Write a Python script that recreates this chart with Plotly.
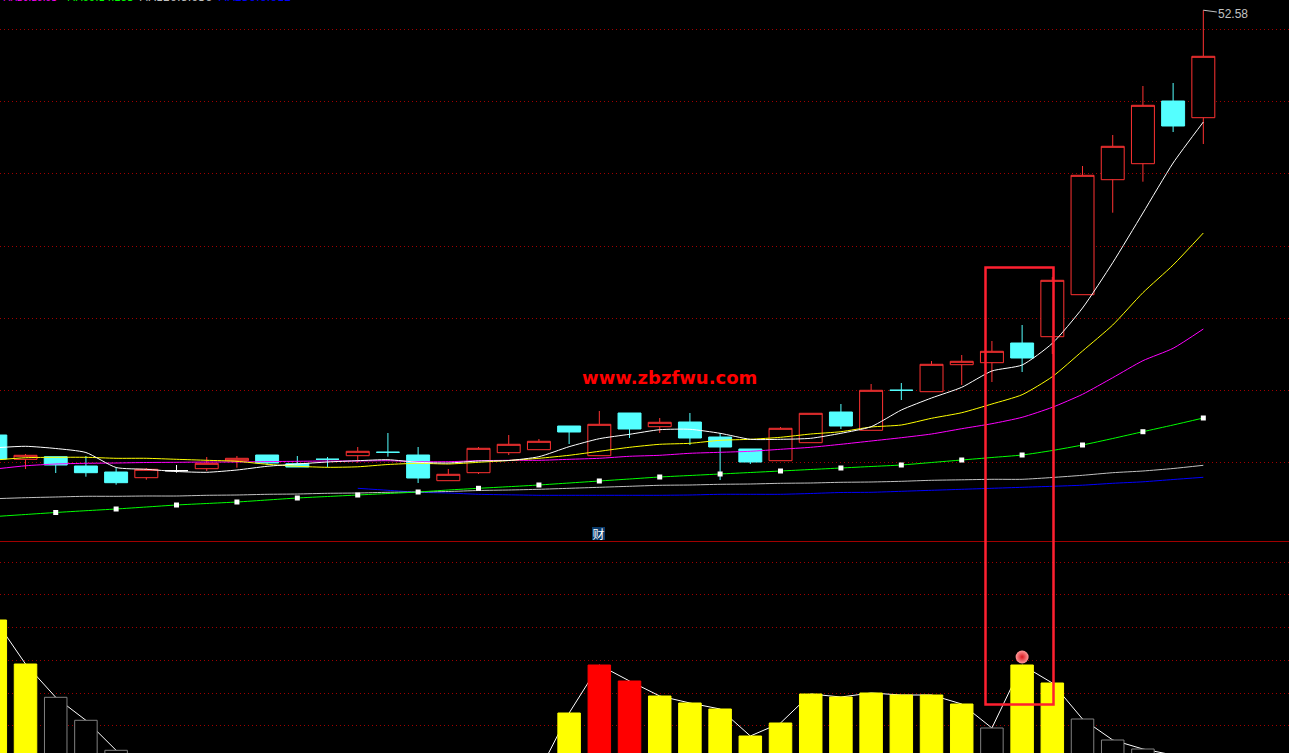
import plotly.graph_objects as go

# Daily candles; one session per slot, oldest first
opens = [10.1, 7.67, 7.93, 7.0, 6.4, 5.83, 6.53, 6.73, 7.53, 8.1, 7.23, 7.68, 8.03, 8.38, 8.1, 5.53, 6.33, 8.33, 8.63, 11.0,
         8.03, 12.3, 10.93, 11.4, 9.9, 8.7, 7.53, 9.33, 12.4, 10.57, 14.58, 14.43, 17.13, 17.33, 19.3, 19.93, 24.13, 35.63, 37.23, 43.5, 41.83]
highs = [10.1, 8.2, 7.93, 8.0, 6.83, 6.8, 7.1, 7.9, 8.0, 8.1, 8.0, 7.9, 8.9, 10.3, 8.9, 6.7, 8.9, 10.1, 9.7, 11.0,
         12.5, 12.3, 11.8, 12.3, 10.3, 8.7, 10.9, 12.27, 13.2, 15.2, 15.3, 17.5, 18.1, 19.5, 21.1, 25.9, 37.0, 40.1, 45.0, 45.3, 52.58]
lows = [7.7, 6.7, 6.3, 5.93, 5.13, 5.63, 6.33, 6.5, 6.83, 7.1, 6.9, 6.87, 7.33, 7.93, 5.3, 5.53, 6.2, 8.1, 8.63, 9.2,
        8.03, 9.8, 10.3, 9.1, 5.6, 7.2, 7.53, 9.33, 10.7, 10.57, 13.6, 14.43, 15.1, 15.4, 16.4, 18.2, 24.13, 32.33, 35.43, 40.4, 39.2]
closes = [7.7, 8.07, 7.1, 6.33, 5.33, 6.67, 6.53, 7.27, 7.77, 7.3, 6.9, 7.67, 8.47, 8.37, 5.8, 6.17, 8.77, 9.17, 9.47, 10.4,
          11.17, 10.7, 11.37, 9.8, 8.9, 7.4, 10.77, 12.27, 11.0, 14.57, 14.57, 17.17, 17.47, 18.47, 17.8, 25.57, 36.07, 38.97, 43.07, 41.0, 47.97]
flat_day = 6

ma5 = [8.82, 8.97, 8.75, 8.35, 6.85, 6.67, 6.45, 6.37, 6.6, 6.97, 7.2, 7.4, 7.53, 7.63, 7.37, 7.3, 7.5, 7.55, 7.93, 8.93,
       9.73, 10.17, 10.63, 10.67, 10.27, 9.67, 9.67, 9.77, 10.27, 10.93, 12.6, 13.8, 14.87, 16.5, 17.1, 19.27, 22.8, 27.33, 32.3, 37.3, 41.4]
ma10 = [7.6, 7.83, 7.87, 7.87, 7.77, 7.77, 7.67, 7.57, 7.47, 7.17, 6.97, 6.87, 6.92, 7.15, 7.27, 7.2, 7.37, 7.55, 7.77, 8.07,
        8.47, 8.87, 9.17, 9.27, 9.57, 9.67, 9.87, 10.2, 10.43, 10.9, 11.1, 11.77, 12.33, 13.2, 14.13, 15.93, 18.5, 21.1, 24.33, 27.1, 30.3]
ma20 = [6.7, 7.02, 7.2, 7.27, 7.3, 7.35, 7.37, 7.4, 7.4, 7.44, 7.47, 7.5, 7.5, 7.53, 7.43, 7.43, 7.53, 7.57, 7.57, 7.67,
        7.77, 7.97, 8.07, 8.27, 8.37, 8.47, 8.67, 8.87, 9.17, 9.5, 9.83, 10.2, 10.73, 11.23, 11.87, 12.87, 14.17, 15.83, 17.53, 18.77, 20.7]
ma60 = [1.95, 2.15, 2.35, 2.53, 2.7, 2.9, 3.1, 3.25, 3.4, 3.6, 3.8, 3.95, 4.1, 4.25, 4.4, 4.6, 4.77, 4.93, 5.1, 5.3,
        5.5, 5.7, 5.9, 6.05, 6.2, 6.35, 6.5, 6.65, 6.8, 6.95, 7.1, 7.35, 7.6, 7.85, 8.1, 8.55, 9.1, 9.75, 10.43, 11.1, 11.8]
ma120 = [3.73, 3.83, 3.9, 3.97, 3.97, 4.0, 4.0, 4.07, 4.1, 4.17, 4.2, 4.27, 4.3, 4.37, 4.4, 4.45, 4.55, 4.6, 4.67, 4.77,
         4.87, 4.97, 5.07, 5.1, 5.17, 5.2, 5.27, 5.3, 5.37, 5.4, 5.47, 5.57, 5.62, 5.67, 5.67, 5.85, 6.07, 6.33, 6.5, 6.75, 7.07]
ma250 = [None, None, None, None, None, None, None, None, None, None, None, None, 4.77, 4.57, 4.37, 4.3, 4.17, 4.12, 4.07, 4.07,
         4.07, 4.07, 4.07, 4.1, 4.17, 4.17, 4.17, 4.25, 4.35, 4.37, 4.47, 4.57, 4.67, 4.77, 4.87, 4.97, 5.08, 5.27, 5.42, 5.65, 5.87]

volume = [183, 139, 105.7, 82.7, 52.7, 33, None, None, None, None, None, None, None, None, None, None, None, None, 31, 90,
          138, 122, 107, 100, 94, 67, 80, 109, 106, 110, 108, 108, 99, 75, 138, 120, 84, 63, 54, 48, None]
volume_kind = list("yyggg" + "x" * 13 + "xy" + "rr" + "y" * 11 + "gyyggggx")

price_grid = [7.35, 14.55, 21.75, 28.95, 36.25, 43.45, 50.65]
volume_grid = [77.5, 109.5, 142.5, 175.5, 208.5, 240.5]
legend_texts = ["MA20:29.95", "MA60:14.283", "MA120:8.036", "MA250:6.012"]
legend_sizes = [9, 10, 11, 11]

RED = "#ff3232"
CYAN = "#54ffff"
GRID = "#a00000"
days = list(range(len(closes)))

fig = go.Figure()

o = [None if i == flat_day else v for i, v in enumerate(opens)]
h = [None if i == flat_day else v for i, v in enumerate(highs)]
l = [None if i == flat_day else v for i, v in enumerate(lows)]
c = [None if i == flat_day else v for i, v in enumerate(closes)]
fig.add_trace(go.Candlestick(
    x=days, open=o, high=h, low=l, close=c, whiskerwidth=0,
    increasing=dict(line=dict(color=RED, width=1), fillcolor="#000000"),
    decreasing=dict(line=dict(color=CYAN, width=1), fillcolor=CYAN),
    hoverinfo="skip", showlegend=False, xaxis="x", yaxis="y"))
fig.add_trace(go.Candlestick(
    x=[days[flat_day]], open=[opens[flat_day]], high=[highs[flat_day]], low=[lows[flat_day]], close=[closes[flat_day]],
    whiskerwidth=0,
    increasing=dict(line=dict(color="#ffffff", width=1), fillcolor="#000000"),
    decreasing=dict(line=dict(color="#ffffff", width=1), fillcolor="#ffffff"),
    hoverinfo="skip", showlegend=False, xaxis="x", yaxis="y"))

for values, color in [(ma250, "#0000ff"), (ma120, "#c0c0c0"), (ma60, "#00ff00"), (ma20, "#ff00ff"), (ma10, "#ffff00"), (ma5, "#ffffff")]:
    fig.add_trace(go.Scatter(x=days, y=values, mode="lines", line=dict(color=color, width=1, shape="spline", smoothing=0.6),
                             hoverinfo="skip", showlegend=False, xaxis="x", yaxis="y"))

fig.add_trace(go.Scatter(x=days[2::2], y=ma60[2::2], mode="markers",
                         marker=dict(symbol="square", size=5, color="#ffffff"),
                         hoverinfo="skip", showlegend=False, xaxis="x", yaxis="y"))

# volume line sits below the bars, so it lives on the lower of two overlaid axes
fig.add_trace(go.Scatter(x=days, y=volume, mode="lines", line=dict(color="#ffffff", width=1),
                         hoverinfo="skip", showlegend=False, xaxis="x", yaxis="y2"))
fill = {"y": "#ffff00", "r": "#ff0000", "g": "#000000", "x": "#000000"}
edge = {"y": "#ffff00", "r": "#ff0000", "g": "#808080", "x": "#000000"}
fig.add_trace(go.Bar(x=days, y=volume, width=0.745,
                     marker=dict(color=[fill[k] for k in volume_kind],
                                 line=dict(color=[edge[k] for k in volume_kind], width=1)),
                     hoverinfo="skip", showlegend=False, xaxis="x", yaxis="y3"))
fig.add_trace(go.Scatter(x=[days[34]], y=[146], mode="markers",
                         marker=dict(size=13, color="#ff9a9a", gradient=dict(type="radial", color="#d81820")),
                         hoverinfo="skip", showlegend=False, xaxis="x", yaxis="y3"))

fig.add_annotation(x=days[40], y=highs[40], xref="x", yref="y", text="52.58", showarrow=True,
                   ax=30, ay=4, arrowcolor="#c0c0c0", arrowwidth=1, arrowhead=0, standoff=0,
                   font=dict(family="Liberation Sans", size=12, color="#c0c0c0"))
fig.add_annotation(x=669 / 1289, y=1 - 377 / 753, xref="paper", yref="paper", text="<b>www.zbzfwu.com</b>", showarrow=False,
                   xanchor="center", yanchor="middle",
                   font=dict(family="DejaVu Sans", size=18, color="#ff0000"))
fig.add_annotation(x=598.5 / 1289, y=1 - 533.5 / 753, xref="paper", yref="paper", text="财", showarrow=False,
                   xanchor="center", yanchor="middle", width=13, height=13,
                   bgcolor="#0a3a6a", borderpad=0, borderwidth=0,
                   font=dict(family="Noto Sans CJK SC", size=12, color="#ffffff"))
for text, left, color, size in zip(legend_texts, [1, 65, 137, 216], ["#ff00ff", "#00ff00", "#c0c0c0", "#0000ff"], legend_sizes):
    fig.add_annotation(x=left / 1289, y=1, xref="paper", yref="paper", xanchor="left", yanchor="bottom",
                       yshift=-(size * 0.3 + 2.3),
                       text=text, showarrow=False, font=dict(family="DejaVu Sans", size=size, color=color))

fig.add_shape(type="rect", xref="paper", yref="paper", x0=985.5 / 1289, x1=1053.5 / 1289,
              y0=1 - 704.5 / 753, y1=1 - 267.5 / 753, line=dict(color="#ff2030", width=2.5), fillcolor="rgba(0,0,0,0)")

hidden = dict(showticklabels=False, ticks="", zeroline=False, showline=False, fixedrange=True)
split = 1 - 541 / 753
grid = dict(showgrid=True, gridcolor=GRID, gridwidth=1, griddash="1px,3px")
fig.update_layout(
    width=1289, height=753, autosize=False, margin=dict(l=0, r=0, t=0, b=0),
    paper_bgcolor="#000000", plot_bgcolor="#000000", showlegend=False,
    boxmode="overlay", boxgap=0.24, boxgroupgap=0, bargap=0.25,
    xaxis=dict(range=[0.155, 42.837], domain=[0, 1], anchor="y", showgrid=False, showticklabels=False, ticks="",
               zeroline=False, showline=True, linecolor=GRID, linewidth=1, rangeslider=dict(visible=False), fixedrange=True),
    yaxis=dict(range=[-0.5, 53.6], domain=[split, 1], anchor="x", tickvals=price_grid, **grid, **hidden),
    yaxis2=dict(range=[50, 262], domain=[0, split], anchor="x", tickvals=volume_grid, **grid, **hidden),
    yaxis3=dict(range=[50, 262], domain=[0, split], anchor="x", overlaying="y2", showgrid=False, **hidden),
)

fig.write_html("out.html", config=dict(displayModeBar=False),
               post_script="document.body.style.margin='0';document.body.style.background='#000';document.documentElement.style.overflow='hidden';")
